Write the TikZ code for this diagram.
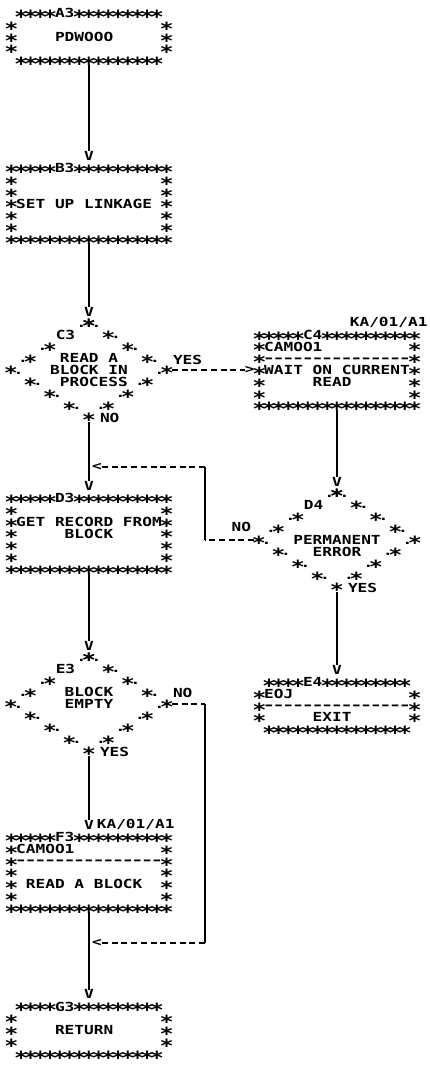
\documentclass[tikz,border=0pt]{standalone}
\usepackage{fontspec}
\usepackage{graphicx}
\usetikzlibrary{positioning,calc,shapes.geometric}

\newfontfamily\prtface{DejaVu Sans Mono}[FakeStretch=1.29]
\newlength\cw
\newcommand\prt{\prtface\bfseries\fontsize{12.5pt}{11.8pt}\selectfont
  \settowidth\cw{0}\spaceskip=\cw\relax\xspaceskip=\cw\relax\lineskiplimit=-100pt\relax}
\newcommand\gap[1]{\hspace*{#1\cw}}
\newcommand\st{\hbox to\cw{\hss\raisebox{-0.47em}[0.63em][0pt]{\scalebox{1.45}{*}}\hss}}
\newcommand\dsh{\hbox to\cw{\hss\raisebox{0.06em}{\scalebox{1.3}[1]{-}}\hss}}
\newcommand\stars[1]{\foreach\nn in {1,...,#1}{\st}}
\newcommand\dashes[1]{\foreach\nn in {1,...,#1}{\dsh}}

\begin{document}
\begin{tikzpicture}[x=1pt, y=-1pt,
    chr/.style={font=\prt, inner sep=0pt, outer sep=0pt},
    box/.style={chr, align=left},
    dia/.style={chr, align=left, shape=diamond, aspect=1.66, minimum width=156pt, minimum height=94pt},
    flow/.style={line width=1.4pt},
    dashline/.style={line width=1.3pt, dash pattern=on 6pt off 3.7pt}]
\useasboundingbox (0,0) rectangle (430,1068);

% blocks of column 3
\node[box] (A3) at (89,36.6) {\gap{1}\stars{4}A3\stars{9}\gap{1}\\
  \st\gap{15}\st\\
  \st\gap{4}PDWOOO\gap{5}\st\\
  \st\gap{15}\st\\
  \gap{1}\stars{15}\gap{1}};
\node[box] (B3) at (89,203.4) {\stars{5}B3\stars{10}\\
  \st\gap{15}\st\\
  \st\gap{15}\st\\
  \st SET UP LINKAGE\gap{1}\st\\
  \st\gap{15}\st\\
  \st\gap{15}\st\\
  \stars{17}};
\node[dia] (C3) at (89,370) {\gap{1}READ A\\BLOCK IN\\\gap{1}PROCESS};
\node[box] (D3) at (89,533.4) {\stars{5}D3\stars{10}\\
  \st\gap{15}\st\\
  \st GET RECORD FROM\st\\
  \st\gap{5}BLOCK\gap{5}\st\\
  \st\gap{15}\st\\
  \st\gap{15}\st\\
  \stars{17}};
\node[dia] (E3) at (89,704) {BLOCK\\EMPTY\\\vphantom{A}};
\node[box] (F3) at (89,872.4) {\stars{5}F3\stars{10}\\
  \st CAMOO1\gap{9}\st\\
  \st\dashes{15}\st\\
  \st\gap{15}\st\\
  \st\gap{1}READ A BLOCK\gap{2}\st\\
  \st\gap{15}\st\\
  \stars{17}};
\node[box] (G3) at (89,1030) {\gap{1}\stars{4}G3\stars{9}\gap{1}\\
  \st\gap{15}\st\\
  \st\gap{4}RETURN\gap{5}\st\\
  \st\gap{15}\st\\
  \gap{1}\stars{15}\gap{1}};

% blocks of column 4
\node[box] (C4) at (337,370) {\stars{5}C4\stars{10}\\
  \st CAMOO1\gap{9}\st\\
  \st\dashes{15}\st\\
  \st WAIT ON CURRENT\st\\
  \st\gap{5}READ\gap{6}\st\\
  \st\gap{15}\st\\
  \stars{17}};
\node[chr, anchor=south east] (C4ref) at ([xshift=8pt, yshift=2pt]C4.north east) {KA/01/A1};
\node[dia] (D4) at (337,540) {\vphantom{A}\\PERMANENT\\\gap{2}ERROR};
\node[box] (E4) at (337,705.6) {\gap{1}\stars{4}E4\stars{9}\gap{1}\\
  \st EOJ\gap{12}\st\\
  \st\dashes{15}\st\\
  \st\gap{5}EXIT\gap{6}\st\\
  \gap{1}\stars{15}\gap{1}};

% decision outlines
\foreach \dm in {C3,D4,E3} {
  \foreach \ea/\eb/\ex/\es in {north/east/7.5/9, north/west/-7.5/1, west/south/7.5/9, east/south/-7.5/9}
    \foreach \k in {0,...,3} {
      \ifnum\k=\es\relax\else
        \node[chr] at ($(\dm.\ea)!\k/4!(\dm.\eb)$) {\st};
        \node[chr] at ($(\dm.\ea)!\k/4!(\dm.\eb)+(\ex,3)$) {.};
      \fi
    }
  \node[chr] at (\dm.south) {\st};
  \node[chr] (\dm-tag) at ($(\dm.north)!0.25!(\dm.west)+(-4,0)$) {\dm};
}

\node[chr, anchor=west] (C3yes) at ($(C3.east)+(6,-10)$) {YES};
\node[chr, anchor=west] (C3no) at ($(C3.south)+(11,1)$) {NO};
\node[chr, anchor=east] (D4no) at ($(D4.west)+(-8,-13)$) {NO};
\node[chr, anchor=west] (D4yes) at ($(D4.south)+(11,1)$) {YES};
\node[chr, anchor=west] (E3no) at ($(E3.east)+(6,-11)$) {NO};
\node[chr, anchor=west] (E3yes) at ($(E3.south)+(11,1)$) {YES};

% arrow heads
\node[chr, above=3pt of B3] (vB3) {V};
\node[chr, above=7pt of C3] (vC3) {V};
\node[chr, above=3pt of D3] (vD3) {V};
\node[chr, above=7pt of E3] (vE3) {V};
\node[chr, above=3pt of F3] (vF3) {V};
\node[chr, right=3pt of vF3] (F3ref) {KA/01/A1};
\node[chr, above=3pt of G3] (vG3) {V};
\node[chr, above=7pt of D4] (vD4) {V};
\node[chr, above=3pt of E4] (vE4) {V};
\node[chr, anchor=east] (gC4) at (C4.west |- C3.east) {>};
\node[chr, anchor=west] (bkD3) at (92,467) {<};
\node[chr, anchor=west] (bkG3) at (92,943) {<};

\coordinate (D4up) at (205,467);
\coordinate (D4out) at (D4.west -| D4up);
\coordinate (E3dn) at (205,943);
\coordinate (E3out) at (E3.east -| E3dn);

\draw[flow] (A3) -- (vB3);
\draw[flow] (B3) -- (vC3);
\draw[flow, shorten <=5pt] (C3.south) -- (vD3);
\draw[flow] (D3) -- (vE3);
\draw[flow, shorten <=5pt] (E3.south) -- (vF3);
\draw[flow] (F3) -- (vG3);
\draw[flow] (C4) -- (vD4);
\draw[flow, shorten <=5pt] (D4.south) -- (vE4);

\draw[dashline, shorten <=5pt] (C3.east) -- (gC4);
\draw[dashline, shorten <=5pt] (D4.west) -- (D4out);
\draw[flow] (D4out) -- (D4up);
\draw[dashline] (D4up) -- (bkD3);
\draw[dashline, shorten <=5pt] (E3.east) -- (E3out);
\draw[flow] (E3out) -- (E3dn);
\draw[dashline] (E3dn) -- (bkG3);
\end{tikzpicture}
\end{document}
